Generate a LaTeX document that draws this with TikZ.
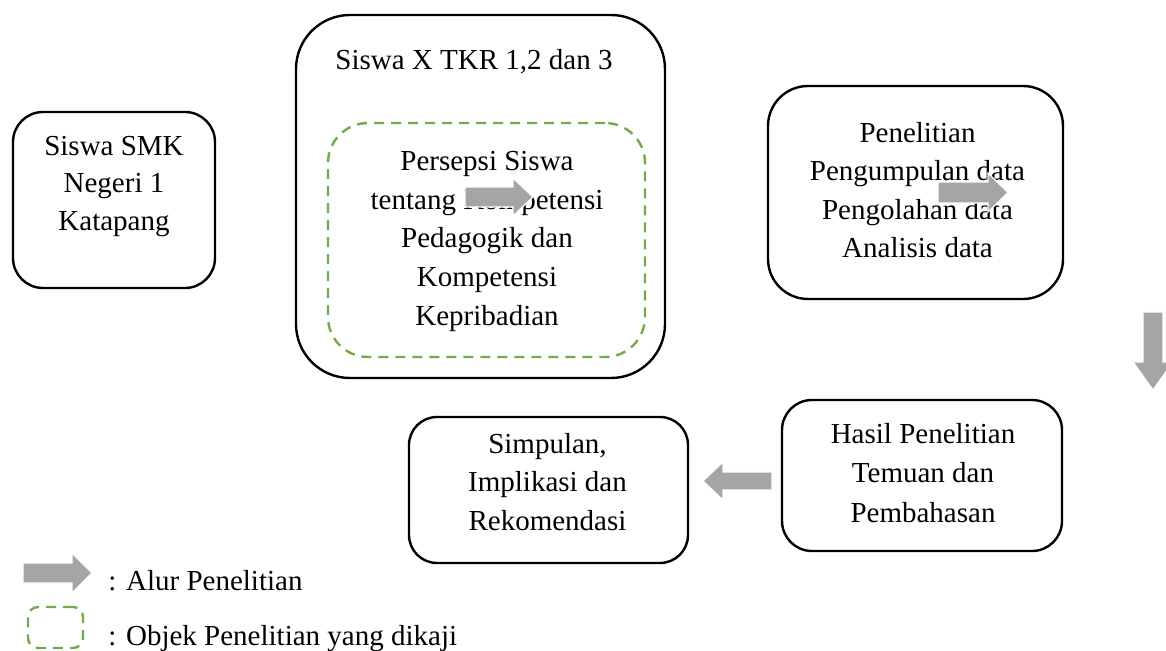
\documentclass[tikz,border=0pt]{standalone}
\usepackage{fontspec}
\setmainfont{Liberation Serif}
\definecolor{dashgreen}{HTML}{70AD47}
\definecolor{arrowgray}{HTML}{A5A5A5}
\tikzset{
  x=0.5pt, y=-0.5pt,
  txt/.style={inner sep=0pt, align=center, anchor=north, font=\fontsize{14.5}{19.25}\selectfont},
  ltxt/.style={inner sep=0pt, anchor=base west, font=\fontsize{14.5}{19.25}\selectfont},
  blackbox/.style={draw=black, line width=1.2pt, rectangle, inner sep=0pt},
  greenbox/.style={draw=dashgreen, line width=1.2pt, dash pattern=on 5pt off 3.5pt, rectangle, inner sep=0pt},
  grayarrow/.style={fill=arrowgray, draw=white, line width=0.6pt}
}
\newcommand{\topstr}{\rule{0pt}{11pt}}
\begin{document}
\begin{tikzpicture}
\useasboundingbox (0,0) rectangle (1166,651);
% boxes
\node[blackbox, rounded corners=15pt, minimum width=101pt, minimum height=88pt] (b1) at (114,200) {};
\node[blackbox, rounded corners=27pt, minimum width=184.5pt, minimum height=181.5pt] (big) at (480.5,196.5) {};
\node[greenbox, rounded corners=20pt, minimum width=158.5pt, minimum height=117pt] (grn) at (486.5,240) {};
\node[blackbox, rounded corners=20pt, minimum width=147.5pt, minimum height=106.5pt] (pen) at (915.5,192.5) {};
\node[blackbox, rounded corners=15pt, minimum width=140pt, minimum height=75.5pt] (has) at (922,475.5) {};
\node[blackbox, rounded corners=14pt, minimum width=139.5pt, minimum height=73pt] (simp) at (548.5,490) {};
\node[greenbox, rounded corners=5pt, minimum width=27.5pt, minimum height=20.5pt] (lgbox) at (55.5,627.5) {};
% texts
\node[txt, font=\fontsize{14.5}{18.75}\selectfont] (t1) at (114,133) {\topstr Siswa SMK\\Negeri 1\\Katapang};
\node[ltxt] (tbig) at (335,70) {Siswa X TKR 1,2 dan 3};
\node[txt, font=\fontsize{14.5}{19.4}\selectfont] (tgrn) at (487,148) {\topstr Persepsi Siswa\\tentang Kompetensi\\Pedagogik dan\\Kompetensi\\Kepribadian};
\node[txt] (tpen) at (917.5,120) {\topstr Penelitian\\Pengumpulan data\\Pengolahan data\\Analisis data};
\node[txt, font=\fontsize{14.5}{19.75}\selectfont] (thas) at (923,421) {\topstr Hasil Penelitian\\Temuan dan\\Pembahasan};
\node[txt] (tsimp) at (547.5,431) {\topstr Simpulan,\\Implikasi dan\\Rekomendasi};
\node[ltxt] (l1) at (108,590) {: Alur Penelitian};
\node[ltxt] (l2) at (108,645) {: Objek Penelitian yang dikaji};
% block arrows
\fill[grayarrow] (465,187)--(513,187)--(513,178)--(533,197)--(513,216)--(513,207)--(465,207)--cycle;
\fill[grayarrow] (938,182)--(988,182)--(988,173)--(1008,192.5)--(988,212)--(988,203)--(938,203)--cycle;
\fill[grayarrow] (1143,312)--(1163,312)--(1163,362)--(1173,362)--(1153,390)--(1133,362)--(1143,362)--cycle;
\fill[grayarrow] (772,472)--(723,472)--(723,462)--(703,481)--(723,500)--(723,490)--(772,490)--cycle;
\fill[grayarrow] (23,563)--(72,563)--(72,553)--(92,573)--(72,593)--(72,583)--(23,583)--cycle;
\end{tikzpicture}
\end{document}
